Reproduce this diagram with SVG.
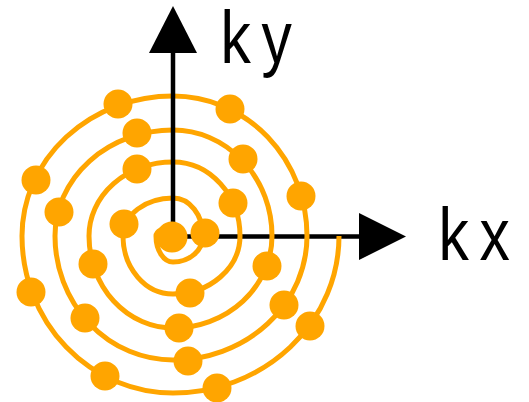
<svg xmlns="http://www.w3.org/2000/svg" width="529" height="402" viewBox="0 0 529 402">
<style>
.ax{stroke:#000;stroke-width:4.5;fill:none}
.head{fill:#000}
.sp{stroke:#ffa500;stroke-width:5;fill:none}
.dot{fill:#ffa500}
.lbl{font-family:"Liberation Sans",Arial,sans-serif;font-size:74px;fill:#000;letter-spacing:13px}
</style>
<rect width="529" height="402" fill="#fff"/>
<g id="axis-x">
<line class="ax" x1="173" y1="236.5" x2="362" y2="236.5"/>
<polygon class="head" points="406,236.5 359,213 359,260"/>
<text class="lbl" transform="translate(438.5,260) scale(0.82,1)">kx</text>
</g>
<g id="spiral">
<path class="sp" d="M173,227 A17,9 0 0 0 156,236 A17,26 0 0 0 173,262 A30,26 0 0 0 203,236 A30,38 0 0 0 173,198 A50,38 0 0 0 123,236 A50,58 0 0 0 173,294 A67,58 0 0 0 240,236 A67,74 0 0 0 173,162 A84,74 0 0 0 89,236 A84,92 0 0 0 173,328 A99,92 0 0 0 272,236 A99,106 0 0 0 173,130 A118,106 0 0 0 55,236 A118,124 0 0 0 173,360 A134,124 0 0 0 307,236 A134,140 0 0 0 173,96 A151,140 0 0 0 22,236 A151,157 0 0 0 173,393 A166,157 0 0 0 339,236"/>
</g>
<g id="axis-y">
<line class="ax" x1="173" y1="236" x2="173" y2="50"/>
<polygon class="head" points="173,6 149,53 197,53"/>
<text class="lbl" transform="translate(220.5,63) scale(0.82,1)">ky</text>
</g>
<g id="samples">
<circle class="dot" cx="172" cy="237" r="15.5"/>
<circle class="dot" cx="205" cy="233" r="14.5"/>
<circle class="dot" cx="124" cy="224" r="14.5"/>
<circle class="dot" cx="233" cy="203" r="14.5"/>
<circle class="dot" cx="137" cy="169" r="14.5"/>
<circle class="dot" cx="190" cy="293" r="14.5"/>
<circle class="dot" cx="93" cy="264" r="14.5"/>
<circle class="dot" cx="243" cy="159" r="14.5"/>
<circle class="dot" cx="137" cy="133" r="14.5"/>
<circle class="dot" cx="267" cy="266" r="14.5"/>
<circle class="dot" cx="179" cy="328" r="14.5"/>
<circle class="dot" cx="59" cy="212" r="14.5"/>
<circle class="dot" cx="301" cy="196" r="14.5"/>
<circle class="dot" cx="118" cy="104" r="14.5"/>
<circle class="dot" cx="230" cy="109" r="14.5"/>
<circle class="dot" cx="284" cy="305" r="14.5"/>
<circle class="dot" cx="85" cy="318" r="14.5"/>
<circle class="dot" cx="36" cy="180" r="14.5"/>
<circle class="dot" cx="188" cy="361" r="14.5"/>
<circle class="dot" cx="31" cy="292" r="14.5"/>
<circle class="dot" cx="105" cy="376" r="14.5"/>
<circle class="dot" cx="217" cy="388" r="14.5"/>
<circle class="dot" cx="310" cy="326" r="14.5"/>
</g>
</svg>
